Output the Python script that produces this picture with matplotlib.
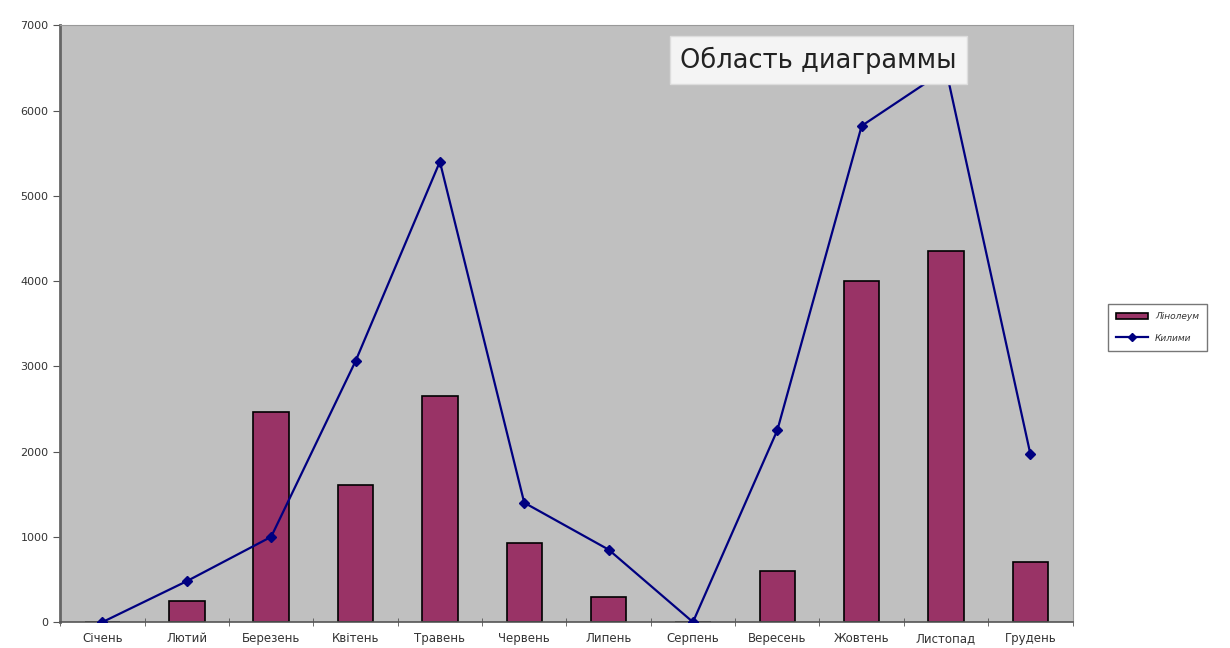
import matplotlib
matplotlib.use('Agg')
import matplotlib.pyplot as plt
import numpy as np

plt.rcParams['font.family'] = ['DejaVu Sans']

# дані
months = ['Січень', 'Лютий', 'Березень', 'Квітень', 'Травень', 'Червень',
          'Липень', 'Серпень', 'Вересень', 'Жовтень', 'Листопад', 'Грудень']
linoleum = [0, 250, 2460, 1610, 2650, 930, 300, 0, 600, 4000, 4350, 700]
kylymy = [0, 480, 1000, 3060, 5400, 1400, 850, 0, 2250, 5820, 6480, 1970]
yticks = [0, 1000, 2000, 3000, 4000, 5000, 6000, 7000]

fig = plt.figure(figsize=(12.3, 6.48), dpi=100)
ax = fig.add_axes([0.049, 0.040, 0.823, 0.921])
ax.set_facecolor('#c0c0c0')

x = np.arange(len(months))
ax.bar(x, linoleum, width=0.42, color='#993366', edgecolor='black',
       linewidth=1.2, label='Лінолеум', zorder=2)
ax.plot(x, kylymy, color='#000080', marker='D', markersize=5.5,
        linewidth=1.6, label='Килими', zorder=3)

ax.set_xlim(-0.5, len(months) - 0.5)
ax.set_ylim(0, 7000)
ax.set_yticks(yticks)
ax.set_yticklabels([str(v) for v in yticks], fontsize=8, color='#333333')
ax.set_xticks(x)
ax.set_xticklabels(months, fontsize=8.5, color='#333333')
ax.tick_params(axis='x', length=0, pad=7)
ax.set_xticks(np.arange(-0.5, len(months)), minor=True)
ax.tick_params(axis='x', which='minor', direction='inout', length=6,
               color='#555555')
ax.tick_params(axis='y', direction='out', length=5, color='#555555')

for s in ['top', 'right']:
    ax.spines[s].set_color('#999999')
ax.spines['left'].set_color('#666666')
ax.spines['left'].set_linewidth(2)
ax.spines['bottom'].set_color('#555555')
ax.spines['bottom'].set_linewidth(1.2)

handles, labels = ax.get_legend_handles_labels()
leg = fig.legend(handles[::-1], labels[::-1], loc='center',
                 bbox_to_anchor=(0.941, 0.495),
                 frameon=True, fancybox=False, edgecolor='#555555',
                 handlelength=3.5, borderpad=0.9, labelspacing=1.4,
                 markerscale=0.8, prop={'style': 'italic', 'size': 6.5})
for t in leg.get_texts():
    t.set_color('#333333')

# підказка
fig.text(0.553, 0.907, 'Область диаграммы', fontsize=18.5, color='#222222',
         ha='left', va='center',
         bbox=dict(boxstyle='square,pad=0.4', facecolor='#f4f4f4',
                   edgecolor='#dddddd'))

plt.savefig('out.png', dpi=100)
